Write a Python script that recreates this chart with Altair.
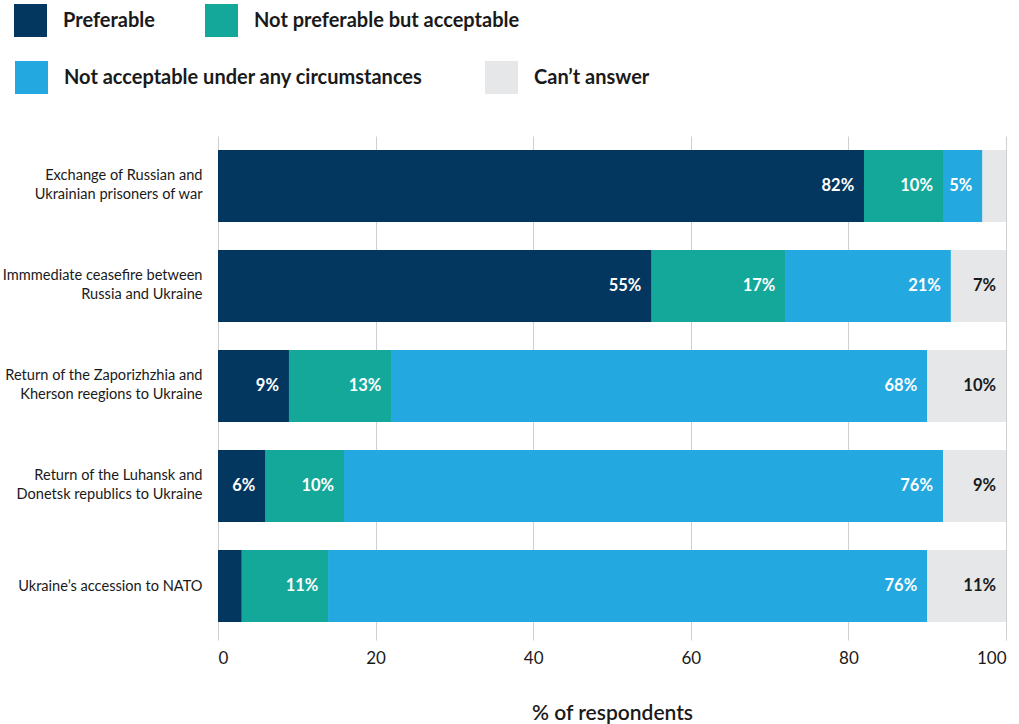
import altair as alt
import pandas as pd

categories = [
    "Exchange of Russian and|Ukrainian prisoners of war",
    "Immmediate ceasefire between|Russia and Ukraine",
    "Return of the Zaporizhzhia and|Kherson reegions to Ukraine",
    "Return of the Luhansk and|Donetsk republics to Ukraine",
    "Ukraine’s accession to NATO",
]
series = [
    "Preferable",
    "Not preferable but acceptable",
    "Not acceptable under any circumstances",
    "Can’t answer",
]
colors = ["#04375f", "#14a89a", "#23a8e0", "#e6e7e9"]

preferable = [82, 55, 9, 6, 3]
not_pref_ok = [10, 17, 13, 10, 11]
not_acceptable = [5, 21, 68, 76, 76]
cant_answer = [3, 7, 10, 9, 11]

rows = []
for s_i, (s, vals) in enumerate(zip(series, [preferable, not_pref_ok, not_acceptable, cant_answer])):
    for cat, v in zip(categories, vals):
        rows.append({"category": cat, "series": s, "order": s_i, "value": v})
df = pd.DataFrame(rows)

FONT = "Lato"
TXT = "#1a1a1a"

base = alt.Chart(df).transform_window(
    cum="sum(value)", sort=[alt.SortField("order")], groupby=["category"],
    frame=[None, 0]
).transform_calculate(
    start="datum.cum - datum.value",
    end="min(datum.cum, 100)",
    label="datum.value + '%'",
)

y_enc = alt.Y(
    "category:N", sort=categories, title=None,
    scale=alt.Scale(paddingInner=0.28, paddingOuter=0.14),
    axis=alt.Axis(
        labelExpr="split(datum.label, '|')", labelFontSize=14.6, labelLineHeight=19,
        labelColor=TXT, labelFont=FONT, labelPadding=16, ticks=False,
        domain=False, grid=False, labelLimit=250,
        labelOffset={"condition": {"test": "indexof(datum.value, '|') >= 0", "value": -10},
                     "value": 1},
    ),
)

x_enc = alt.X(
    "start:Q", scale=alt.Scale(domain=[0, 100], nice=False),
    title="% of respondents",
    axis=alt.Axis(
        values=[0, 20, 40, 60, 80, 100], grid=True, gridColor="#cfcfcf",
        domain=False, tickColor="#cfcfcf", tickSize=4, labelFontSize=17,
        labelFont=FONT, labelColor=TXT, labelPadding=10,
        titleFont=FONT, titleFontSize=21, titleFontWeight=600,
        titleColor=TXT, titlePadding=36,
    ),
)


def legend(vals, lx, ly, colpad):
    return alt.Legend(
        title=None, orient="none", legendX=lx, legendY=ly, values=vals,
        direction="horizontal", symbolType="square", symbolSize=1089,
        symbolStrokeWidth=0, symbolOpacity=1, labelFont=FONT, labelFontSize=20,
        labelFontWeight="bold", labelColor=TXT, labelOffset=16,
        columnPadding=colpad, padding=0, labelLimit=500,
    )


fill_scale = alt.Scale(domain=series, range=colors)

bars1 = base.mark_bar().encode(
    x=x_enc, x2="end:Q", y=y_enc,
    fill=alt.Fill("series:N", scale=fill_scale,
                  legend=legend(series[:2], -204, -132, 50)),
)
bars2 = base.mark_bar().encode(
    x=x_enc, x2="end:Q", y=y_enc,
    fill=alt.Fill("series:N", scale=fill_scale,
                  legend=legend(series[2:], -203, -75, 62)),
)

labels = base.transform_filter("datum.value >= 5").mark_text(
    align="right", baseline="middle", dx=-10, font=FONT, fontSize=16.5,
    fontWeight="bold",
).encode(
    x=alt.X("end:Q"),
    y=alt.Y("category:N", sort=categories),
    text="label:N",
    color=alt.condition(
        alt.datum.order == 3, alt.value(TXT), alt.value("white")
    ),
)

chart = alt.layer(bars1, bars2, labels).resolve_scale(
    fill="independent"
).properties(
    width=788, height=500,
    autosize=alt.AutoSizeParams(type="none"),
    padding={"left": 218, "top": 136, "right": 13, "bottom": 88},
).configure_view(stroke=None)

chart.save("out.html", embed_options={"renderer": "svg", "actions": False})
